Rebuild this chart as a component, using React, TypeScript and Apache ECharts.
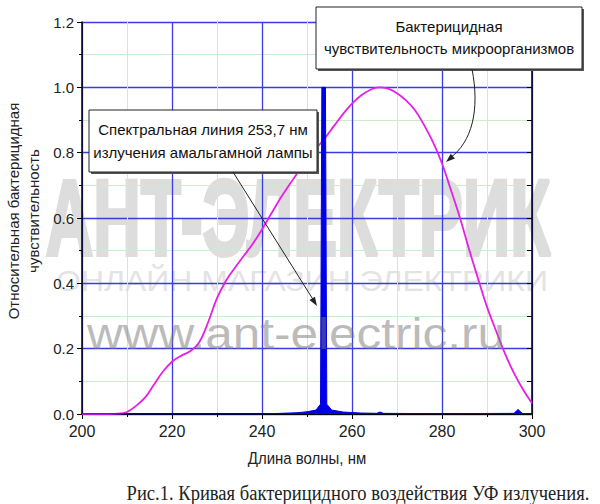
import React, { useEffect, useRef } from "react";
import * as echarts from "echarts";

// ---- data ----
const wavelengths = [
  200, 202, 204, 206, 208, 210, 212, 214, 216, 218, 220, 222, 224, 226, 228, 230, 232, 234, 236, 238,
  240, 242, 244, 246, 248, 250, 252, 254, 256, 258, 260, 262, 264, 266, 268, 270, 272, 274, 276, 278,
  280, 282, 284, 286, 288, 290, 292, 294, 296, 298, 300,
];
const sensitivity = [
  0, 0, 0, 0, 0.001, 0.006, 0.025, 0.05, 0.09, 0.13, 0.16, 0.178, 0.192, 0.218, 0.28, 0.355, 0.408,
  0.448, 0.485, 0.522, 0.565, 0.612, 0.658, 0.7, 0.74, 0.778, 0.812, 0.845, 0.882, 0.918, 0.95, 0.975,
  0.992, 1.0, 0.996, 0.982, 0.96, 0.93, 0.885, 0.832, 0.767, 0.685, 0.6, 0.505, 0.415, 0.328, 0.255,
  0.185, 0.125, 0.075, 0.033,
];
const lampX = [
  200, 240, 244, 248, 250, 252, 253, 253.3, 254.1, 254.4, 255.5, 258, 262, 265.5, 266.2, 267, 280, 296,
  296.9, 297.8, 300,
];
const lampY = [
  0, 0, 0.002, 0.004, 0.007, 0.012, 0.03, 1.0, 1.0, 0.03, 0.012, 0.006, 0.003, 0.002, 0.006, 0.002,
  0.001, 0.002, 0.014, 0.002, 0,
];

const xName = "Длина волны, нм";
const yName = "Относительная бактерицидная\nчувствительность";
const lampNote = "Спектральная линия 253,7 нм\nизлучения амальгамной лампы";
const curveNote = "Бактерицидная\nчувствительность микроорганизмов";
const caption = "Рис.1. Кривая бактерицидного воздействия УФ излучения.";

const SANS = "'Liberation Sans', Arial, sans-serif";
const SERIF = "'Liberation Serif', 'Times New Roman', serif";

function measure(text: string, font: string): number {
  const ctx = document.createElement("canvas").getContext("2d");
  if (!ctx) return 1;
  ctx.font = font;
  return ctx.measureText(text).width;
}

function arrowHead(tx: number, ty: number, fx: number, fy: number, len = 9, half = 3.2) {
  const dx = tx - fx;
  const dy = ty - fy;
  const d = Math.sqrt(dx * dx + dy * dy);
  const ux = dx / d;
  const uy = dy / d;
  const bx = tx - ux * len;
  const by = ty - uy * len;
  return [
    [tx, ty],
    [bx - uy * half, by + ux * half],
    [bx + uy * half, by - ux * half],
  ];
}

function scaledText(
  text: string,
  cx: number,
  cy: number,
  size: number,
  weight: string,
  target: number,
  fill: string,
  family: string,
  extra: any = {},
  z = -10
) {
  const w = measure(text, `${weight} ${size}px ${family}`);
  return {
    type: "text",
    x: cx,
    y: cy,
    scaleX: target / w,
    z,
    silent: true,
    style: {
      text,
      fill,
      font: `${weight} ${size}px ${family}`,
      align: "center",
      verticalAlign: "middle",
      ...extra,
    },
  };
}

export default function App() {
  const ref = useRef<HTMLDivElement>(null);

  useEffect(() => {
    if (!ref.current) return;
    const chart = echarts.init(ref.current, null, { renderer: "svg" });

    const box = (x: number, y: number, w: number, h: number) => [
      { type: "rect", shape: { x: x + 2, y: y + 2, width: w, height: h }, style: { fill: "#555" }, z: 60 },
      { type: "rect", shape: { x, y, width: w, height: h }, style: { fill: "#fff", stroke: "#222", lineWidth: 1 }, z: 61 },
    ];

    const option: any = {
      animation: false,
      backgroundColor: "#fff",
      grid: { left: 82, right: 68, top: 22, bottom: 90 },
      xAxis: [
        {
          type: "value",
          min: 200,
          max: 300,
          interval: 20,
          axisLine: { show: true, onZero: false, lineStyle: { color: "#000", width: 1.5 } },
          axisTick: { show: true, length: 5, lineStyle: { color: "#000", width: 1 } },
          minorTick: { show: true, splitNumber: 2, length: 3, lineStyle: { color: "#000", width: 1 } },
          axisLabel: { fontSize: 16, color: "#222", margin: 9, fontFamily: SANS },
          splitLine: { show: true, lineStyle: { color: "#3b3be6", width: 1.3 } },
          minorSplitLine: { show: true, lineStyle: { color: "#c8efc8", width: 1 } },
        },
        {
          type: "value",
          position: "top",
          min: 200,
          max: 300,
          interval: 20,
          axisLine: { show: true, lineStyle: { color: "#000", width: 1.5 } },
          axisTick: { show: false },
          axisLabel: { show: false },
          splitLine: { show: false },
        },
      ],
      yAxis: [
        {
          type: "value",
          min: 0,
          max: 1.2,
          interval: 0.2,
          axisLine: { show: true, onZero: false, lineStyle: { color: "#000", width: 1.5 } },
          axisTick: { show: true, length: 5, lineStyle: { color: "#000", width: 1 } },
          minorTick: { show: true, splitNumber: 2, length: 3, lineStyle: { color: "#000", width: 1 } },
          axisLabel: {
            fontSize: 15,
            color: "#222",
            margin: 8,
            fontFamily: SANS,
            formatter: (v: number) => v.toFixed(1),
          },
          splitLine: { show: true, lineStyle: { color: "#3b3be6", width: 1.3 } },
          minorSplitLine: { show: true, lineStyle: { color: "#c8efc8", width: 1 } },
        },
        {
          type: "value",
          position: "right",
          min: 0,
          max: 1.2,
          interval: 0.2,
          axisLine: { show: true, lineStyle: { color: "#000", width: 1.5 } },
          axisTick: { show: true, inside: true, length: 5, lineStyle: { color: "#000", width: 1 } },
          minorTick: { show: true, splitNumber: 2, length: 5, lineStyle: { color: "#000", width: 1 } },
          axisLabel: { show: false },
          splitLine: { show: false },
        },
      ],
      series: [
        {
          type: "line",
          name: "sensitivity",
          data: wavelengths.map((x, i) => [x, sensitivity[i]]),
          smooth: 0.4,
          symbol: "none",
          lineStyle: { color: "#e620e6", width: 1.8 },
          z: 3,
        },
        {
          type: "line",
          name: "lamp",
          data: lampX.map((x, i) => [x, lampY[i]]),
          symbol: "none",
          lineStyle: { color: "#0000e8", width: 1 },
          areaStyle: { color: "#0000e8", opacity: 1 },
          z: 4,
        },
      ],
      graphic: [
        // watermark (under the grid)
        scaledText("АНТ-ЭЛЕКТРИК", 298, 218, 108, "bold", 505, "#dddddd", SANS, {
          stroke: "#dddddd",
          lineWidth: 4,
          lineJoin: "miter",
        }),
        scaledText("ОНЛАЙН МАГАЗИН ЭЛЕКТРИКИ", 302, 281, 29, "normal", 492, "#e3e3e3", SANS),
        scaledText("www.ant-electric.ru", 296, 333, 45, "normal", 418, "rgba(120,120,120,0.5)", SANS, {}, 50),
        // annotation 1
        ...box(89, 110, 228, 62),
        {
          type: "text",
          x: 203,
          y: 141,
          z: 62,
          style: { text: lampNote, font: `15px ${SANS}`, fill: "#111", align: "center", verticalAlign: "middle", lineHeight: 23 },
        },
        { type: "line", shape: { x1: 233, y1: 172, x2: 314, y2: 301 }, style: { stroke: "#222", lineWidth: 1 }, z: 62 },
        { type: "polygon", shape: { points: arrowHead(317, 306, 233, 172) }, style: { fill: "#222" }, z: 62 },
        // annotation 2
        ...box(316, 7, 266, 62),
        {
          type: "text",
          x: 449,
          y: 37,
          z: 62,
          style: { text: curveNote, font: `15px ${SANS}`, fill: "#111", align: "center", verticalAlign: "middle", lineHeight: 22 },
        },
        {
          type: "bezierCurve",
          shape: { x1: 472, y1: 69, cpx1: 480, cpy1: 110, cpx2: 472, cpy2: 142, x2: 450, y2: 158 },
          style: { stroke: "#222", lineWidth: 1, fill: null },
          z: 62,
        },
        { type: "polygon", shape: { points: arrowHead(446, 162, 460, 150) }, style: { fill: "#222" }, z: 62 },
        // axis names
        {
          type: "text",
          x: 23,
          y: 211,
          rotation: Math.PI / 2,
          style: { text: yName, font: `15px ${SANS}`, fill: "#222", align: "center", verticalAlign: "middle", lineHeight: 20 },
        },
        {
          type: "text",
          x: 307,
          y: 458,
          scaleY: 1.12,
          style: { text: xName, font: `15px ${SANS}`, fill: "#222", align: "center", verticalAlign: "middle" },
        },
        scaledText(caption, 358, 493, 20, "normal", 463, "#222", SERIF, {}, 10),
      ],
    };

    chart.setOption(option);
    return () => chart.dispose();
  }, []);

  return (
    <div
      ref={ref}
      style={{ position: "absolute", left: 0, top: 0, width: 600, height: 504, background: "#fff" }}
    />
  );
}
